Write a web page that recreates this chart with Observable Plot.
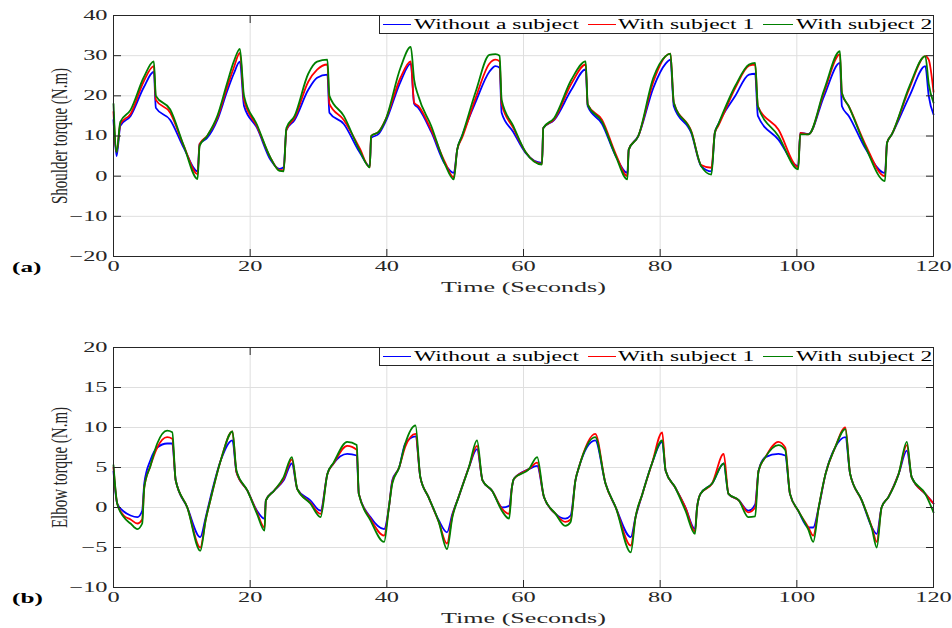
<!DOCTYPE html>
<html><head><meta charset="utf-8">
<script src="https://cdn.jsdelivr.net/npm/d3@7"></script>
<script src="https://cdn.jsdelivr.net/npm/@observablehq/plot@0.6"></script>
<style>
html,body{margin:0;padding:0;background:#fff;}
#wrap{position:relative;width:952px;height:628px;overflow:hidden;font-family:"Liberation Serif",serif;background:#fff;}
.legend{position:absolute;left:379px;width:555px;height:19px;border:1px solid #262626;background:#fff;box-sizing:border-box;}
.legend .sw{position:absolute;top:8px;height:0;border-top:1.6px solid;}
.legend .lt{position:absolute;top:0;line-height:17px;font-size:14px;transform-origin:0 50%;transform:scaleX(1.68);white-space:nowrap;color:#000;}
.tag{position:absolute;left:12px;font-weight:bold;font-size:14px;line-height:18px;transform-origin:0 50%;transform:scaleX(1.8);color:#000;}
</style>
</head><body>
<div id="wrap"></div>
<script>
// ---------- data ----------
const seriesNames = ["Without a subject", "With subject 1", "With subject 2"];
const seriesColors = ["#0000ff", "#ff0000", "#008000"];
const xTicks = [0, 20, 40, 60, 80, 100, 120];
const yTicksShoulder = [-20, -10, 0, 10, 20, 30, 40];
const yTicksElbow = [-10, -5, 0, 5, 10, 15, 20];

// Shoulder torque (N.m), panel (a)
const tShoulder = [0,0.45,1,2.5,4.4,5.9,6.2,8.3,10.3,12.3,12.6,13.7,15.2,16.6,17.6,18.5,19.1,21,23,24.3,24.9,25.3,26.5,28.5,29.8,31.3,31.6,33.7,36,37.5,37.7,38.8,39.8,42,43.5,44,44.6,46.5,48.5,49.8,50.3,51,53,55,55.9,56.5,56.8,58.5,60.3,62.7,62.9,64.5,67,69.1,69.4,71.5,73.5,75.2,75.4,76.8,79,80.8,81.5,82,84.6,86,87.5,88,88.5,91,93,93.9,94.3,97.3,100.2,100.5,101.7,104,106.3,106.6,107.6,110,112.9,113.2,113.9,116.5,118.8,119.3,120];
const shoulderNoSubject = [14,5,12.5,15,22,26,17,14,7,1.2,8,9.5,14,21,25.5,28.5,17.5,12,4,1.8,2.2,11.5,14,21.5,24.5,25.3,15.8,13,6,2.5,9.5,10.5,13.5,23.5,28,18,17,11,3,0.8,6.6,10,18.5,26,27.4,27,15.8,11,5.8,3.3,12,14,21.5,26.6,17.4,13,5,0.8,6.6,10,22,28,29,17.4,10.5,2.5,1.2,10.8,12.9,20,25.3,25.5,15,9.1,2.5,10.8,10.5,20,28.2,17.4,15,7,0.8,8.3,10.4,20,27.4,20,15.4];
const shoulderSubject1 = [16,6,13,15.5,23.5,27.4,19,15.8,7.5,0.5,8,10,14.5,22,27,30.7,19,12.4,4.5,1.5,1.5,11.5,14.5,23.5,26.5,27.8,18,14,7,2.2,10,11,14,24.5,28.6,18.3,17.5,11.5,3.5,-0.3,6.6,9.5,19.5,28,29,28.6,18,12,6,3,12,14.2,23,27.8,17.8,14,5.5,0,6.6,10,23.5,29.9,30.5,18.3,11,2.8,2.1,10.8,12.5,22,27.5,27.8,17.4,11.6,2.2,10.8,10.4,21,30.3,20.5,17.4,8,0,8.3,10.4,22,29.9,29,21];
const shoulderSubject2 = [18,6,13.5,16.5,24.5,28.6,20,16.6,7.5,-0.7,7.5,10,15,23,28.5,31.7,20,12.8,4.5,1.3,1.2,12,15,25.5,28.5,29,20,15,6.5,2.2,10,11,14,27,32.2,24,20,12.5,3,-0.8,6.6,10,21,30.2,30.4,30,19,12.5,6,2.9,12,14.5,24,28.6,17.8,13.5,5,-0.8,6.6,10,24.5,29.9,30.5,18.3,10.8,2.5,0.4,10.8,12.9,22.5,27.8,28.2,17.4,10,1.7,10.4,10.4,21.5,31.1,20.7,17.4,7.5,-1.2,8.3,10.4,22.5,29.9,23,18.3];

// Elbow torque (N.m), panel (b)
const tElbow = [0,0.54,1.5,2.5,3.5,4.2,4.5,5.4,6.4,7.85,8.6,9.1,10.8,12.7,13.5,14.2,15.7,17.4,18,19.6,21,22.1,22.3,23.5,24.9,26.1,26.9,28.8,30.3,31.3,32.2,34.2,35.6,35.9,37.6,39.6,40.3,40.8,41.8,42.7,44.2,44.9,46.1,47.6,48.8,49.6,50.5,52,53.2,54,55.4,56.9,57.9,58.3,58.6,60.8,62,63,64.7,66.1,66.9,67.6,68.1,70.5,72,73.5,75.7,76.4,77.4,78.8,80.3,80.8,82.2,83.7,85.1,85.4,85.9,87.6,89.3,90,91.5,92.9,93.9,94.4,95.4,97.3,98.3,99,100.2,101.7,102.4,103.2,104.2,105.6,107.1,107.8,109.5,111,111.7,112.4,113.4,114.9,116.1,116.8,118.8,120];
const elbowNoSubject = [4.5,0.5,-0.5,-1,-1.2,-0.4,3,5.9,7.5,8,8,3.4,0,-3.7,-1.2,1.3,5.9,8.4,4.4,2.1,-0.4,-1.4,0.9,2.1,3.4,5.5,2.3,0.9,-0.4,4.2,5.5,6.7,6.5,1.7,-1.2,-2.7,0,3.4,5,8,8.9,3.8,1.3,-1.6,-3.1,-0.8,1.3,5,7.3,3.4,2.1,0,0.2,2.5,3.6,4.8,5.2,1.3,-0.8,-1.4,-1,3.4,5,8.4,3,0,-3.7,-1.2,1.7,5.5,8.2,4.6,2.5,0,-2.7,0,1.7,3,5.5,1.7,0.9,-0.4,0.4,4.6,6.3,6.7,6.5,1.7,-0.4,-2.5,-2.5,0,4.2,7.5,8.8,4.2,0.9,-2.5,-3.3,0,1.3,4.2,7.1,3.8,1.7,0.5];
const elbowSubject1 = [5,0.5,-1,-1.5,-2,-1.5,2.5,5.2,7.5,8.8,8.6,3.4,0,-5,-1.5,1,5.9,9.5,4.4,2.1,-0.6,-2.5,0.9,2.1,3.6,6,2.3,0.6,-0.8,4.2,5.5,7.7,7.2,1.7,-1.4,-3.5,0,3.2,5,7.6,9.2,3.8,1.3,-1.8,-4.5,-1,1.3,5,7.7,3.4,2.1,-0.2,-0.8,2.5,3.6,4.8,5.6,1.3,-0.8,-1.8,-1.5,3.4,5,9.2,3,0,-4.75,-1.2,1.7,5.5,9.4,4.6,2.5,0,-3,0,1.7,3,6.7,1.7,0.9,-0.6,0,4.6,6.3,8.2,7.5,1.7,-0.4,-2.5,-3.5,0,4.2,7.5,10,4.2,0.9,-2.5,-4.3,0,1.3,4.2,7.8,3.8,1.7,0.5];
const elbowSubject2 = [5.3,0.5,-1.2,-2,-2.7,-2,2.5,5.2,8,9.6,9.4,3.4,0,-5.4,-1.5,1,5.9,9.5,4.6,2.1,-0.8,-2.9,0.9,2.1,3.8,6.3,2.3,0.5,-1.2,4.2,5.6,8.2,7.8,1.7,-1.6,-4.3,0,3,5,8,10.25,3.8,1.3,-1.8,-5.2,-1.2,1.3,5,8.4,3.4,2.1,-0.5,-1.4,2.5,3.6,4.8,6.3,1.3,-0.8,-2.3,-1.8,3.4,5,8.8,3,0,-5.6,-1.2,1.7,5.5,8.4,4.6,2.5,-0.4,-3.3,0,1.7,3,5.5,1.7,0.9,-1.2,-1.1,4.6,6.3,7.8,7.2,1.7,-0.4,-2.8,-4.3,0,4.2,7.5,9.8,4.2,0.9,-2.7,-5,0,1.3,4.2,8.2,3.8,1.7,-0.6];

// ---------- drawing ----------
const wrap = document.getElementById("wrap");

// widen horizontal texts (and thicken the rotated title) around their anchor points
function stretchText(svg, sx, rotSy) {
  svg.querySelectorAll("text").forEach(el => {
    const tr = el.getAttribute("transform") || "";
    if (tr.includes("rotate")) el.setAttribute("transform", tr + ` scale(1,${rotSy})`);
    else el.setAttribute("transform", tr + ` scale(${sx},1)`);
  });
}

function panel({t, values, yDomain, yTicks, yLabel, top, height, mTop, mBottom, tag, tagTop}) {
  const rows = [];
  values.forEach((vals, k) => vals.forEach((v, i) => rows.push({t: t[i], v, s: seriesNames[k]})));
  const svg = Plot.plot({
    width: 952, height, marginLeft: 113, marginRight: 19, marginTop: mTop, marginBottom: mBottom,
    style: {fontFamily: "Liberation Serif", fontSize: "14px", color: "#262626", background: "white", overflow: "visible"},
    x: {domain: [0, 120], label: null},
    y: {domain: yDomain, label: null},
    color: {domain: seriesNames, range: seriesColors},
    marks: [
      Plot.gridX(xTicks, {stroke: "#dfdfdf", strokeOpacity: 1}),
      Plot.gridY(yTicks, {stroke: "#dfdfdf", strokeOpacity: 1}),
      Plot.line(rows, {x: "t", y: "v", z: "s", stroke: "s", strokeWidth: 1.8, curve: "monotone-x"}),
      Plot.frame({stroke: "#262626", strokeWidth: 1}),
      Plot.axisX(xTicks, {anchor: "bottom", tickSize: -7, tickPadding: 11.5, fontSize: 14, label: null}),
      Plot.axisX(xTicks, {anchor: "top", tickSize: -7, tickFormat: () => "", label: null}),
      Plot.axisY(yTicks, {anchor: "left", tickSize: -8, tickPadding: 14, fontSize: 14, label: null}),
      Plot.axisY(yTicks, {anchor: "right", tickSize: -8, tickFormat: () => "", label: null}),
      Plot.text([yLabel], {frameAnchor: "left", rotate: -90, dx: -54, textAnchor: "middle", lineAnchor: "middle", fontSize: 15, fill: "#262626"}),
      Plot.text(["Time (Seconds)"], {frameAnchor: "bottom", dy: 31, textAnchor: "middle", lineAnchor: "middle", fontSize: 15, fill: "#262626"})
    ]
  });
  stretchText(svg, 1.74, 1.5);
  svg.style.position = "absolute";
  svg.style.top = top + "px";
  svg.style.left = "0px";
  wrap.appendChild(svg);

  // legend
  const lg = document.createElement("div");
  lg.className = "legend";
  lg.style.top = (top + mTop) + "px";
  const items = [[3, 31, 34], [208, 236, 238], [383, 413, 416]];
  seriesNames.forEach((name, k) => {
    const sw = document.createElement("div");
    sw.className = "sw";
    sw.style.left = items[k][0] + "px";
    sw.style.width = (items[k][1] - items[k][0]) + "px";
    sw.style.borderTopColor = seriesColors[k];
    lg.appendChild(sw);
    const lt = document.createElement("div");
    lt.className = "lt";
    lt.style.left = items[k][2] + "px";
    lt.textContent = name;
    lg.appendChild(lt);
  });
  wrap.appendChild(lg);

  const tg = document.createElement("div");
  tg.className = "tag";
  tg.style.top = tagTop + "px";
  tg.textContent = tag;
  wrap.appendChild(tg);
}

panel({t: tShoulder, values: [shoulderNoSubject, shoulderSubject1, shoulderSubject2], yDomain: [-20, 40], yTicks: yTicksShoulder,
  yLabel: "Shoulder torque (N.m)", top: 0, height: 306, mTop: 15, mBottom: 50, tag: "(a)", tagTop: 259});
panel({t: tElbow, values: [elbowNoSubject, elbowSubject1, elbowSubject2], yDomain: [-10, 20], yTicks: yTicksElbow,
  yLabel: "Elbow torque (N.m)", top: 330, height: 298, mTop: 17, mBottom: 41, tag: "(b)", tagTop: 590});
</script>
</body></html>
